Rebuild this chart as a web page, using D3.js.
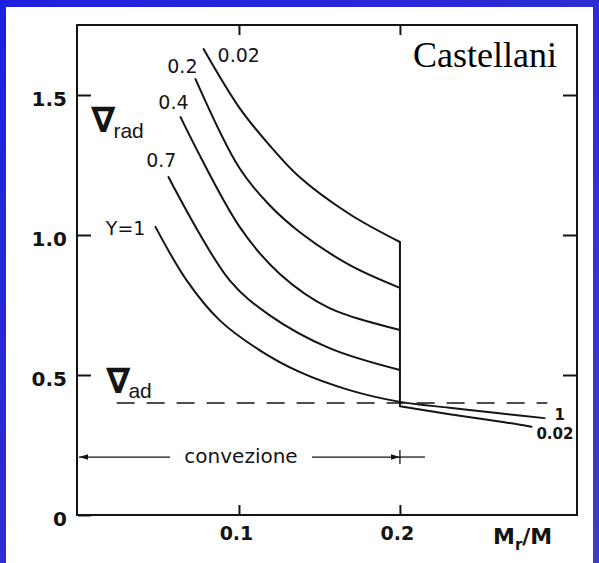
<!DOCTYPE html>
<html>
<head>
<meta charset="utf-8">
<script src="https://cdn.jsdelivr.net/npm/d3@7/dist/d3.min.js"></script>
<style>
  html, body { margin: 0; padding: 0; background: #ffffff; }
  svg { display: block; }
</style>
</head>
<body>
<svg id="chart" width="599" height="563"></svg>
<script>
// Radiative gradient vs. mass coordinate for different hydrogen abundances Y
const seriesNames = ["Y=1", "0.7", "0.4", "0.2", "0.02"];

// Mr/M values of each curve's points
const massY1   = [0.0481, 0.0674, 0.0879, 0.1127, 0.1376, 0.1686, 0.2, 0.2308, 0.2618, 0.2898];
const massY07  = [0.0562, 0.0941, 0.1189, 0.1562, 0.2];
const massY04  = [0.0637, 0.1003, 0.1252, 0.1562, 0.2];
const massY02  = [0.073, 0.1003, 0.1189, 0.1376, 0.1686, 0.2];
const massY002 = [0.078, 0.1003, 0.1189, 0.1376, 0.1686, 0.2, 0.2, 0.2308, 0.2618, 0.2817];

// radiative gradient values of each curve's points
const gradY1   = [1.029, 0.839, 0.696, 0.589, 0.511, 0.446, 0.404, 0.383, 0.363, 0.346];
const gradY07  = [1.207, 0.839, 0.714, 0.596, 0.518];
const gradY04  = [1.421, 1.030, 0.862, 0.739, 0.661];
const gradY02  = [1.557, 1.239, 1.107, 1.011, 0.893, 0.811];
const gradY002 = [1.664, 1.454, 1.321, 1.207, 1.075, 0.975, 0.388, 0.36, 0.334, 0.315];

// adiabatic gradient (dashed) and its extent
const gradAd = 0.4;
const adMassRange = [0.024, 0.2916];

// extent of the convective core
const convectionEdge = 0.2;

// axis ticks
const xTickValues = [0.1, 0.2];
const xTickLabels = ["0.1", "0.2"];
const yTickValues = [0, 0.5, 1.0, 1.5];
const yTickLabels = ["0", "0.5", "1.0", "1.5"];

const W = 599, H = 563;
const svg = d3.select("#chart");

// blue slide frame
const defs = svg.append("defs");
const grad = defs.append("linearGradient").attr("id", "frameBlue")
  .attr("x1", "0%").attr("y1", "0%").attr("x2", "100%").attr("y2", "100%");
grad.append("stop").attr("offset", "0%").attr("stop-color", "#1f1fe0");
grad.append("stop").attr("offset", "100%").attr("stop-color", "#3c3cc6");
svg.append("rect").attr("width", W).attr("height", H).attr("fill", "url(#frameBlue)");
svg.append("rect").attr("x", 6).attr("y", 7).attr("width", 587).attr("height", H - 7).attr("fill", "#ffffff");

const x = d3.scaleLinear().domain([0, 0.31]).range([78, 577]);
const y = d3.scaleLinear().domain([0, 1.75]).range([515, 25]);

const ink = "#141414";

// plot box
svg.append("rect")
  .attr("x", x(0) - 1).attr("y", y(1.75))
  .attr("width", x(0.31) - x(0) + 1).attr("height", y(0) - y(1.75))
  .attr("fill", "none").attr("stroke", ink).attr("stroke-width", 2);

// axes with inward ticks
const axisFont = "'DejaVu Sans', sans-serif";
const bottomAxis = svg.append("g").attr("transform", `translate(0,${y(0)})`)
  .call(d3.axisBottom(x).tickValues(xTickValues)
    .tickFormat((d, i) => xTickLabels[i]).tickSizeInner(-10).tickSizeOuter(0).tickPadding(12));
const topAxis = svg.append("g").attr("transform", `translate(0,${y(1.75)})`)
  .call(d3.axisTop(x).tickValues(xTickValues).tickFormat("").tickSizeInner(-10).tickSizeOuter(0));
const leftAxis = svg.append("g").attr("transform", `translate(${x(0)},0)`)
  .call(d3.axisLeft(y).tickValues(yTickValues)
    .tickFormat((d, i) => yTickLabels[i]).tickSizeInner(-13).tickSizeOuter(0).tickPadding(11));
const rightAxis = svg.append("g").attr("transform", `translate(${x(0.31)},0)`)
  .call(d3.axisRight(y).tickValues(yTickValues.filter(v => v > 0)).tickFormat("").tickSizeInner(-14).tickSizeOuter(0));

[bottomAxis, topAxis, leftAxis, rightAxis].forEach(g => {
  g.select(".domain").remove();
  g.selectAll(".tick line").attr("stroke", ink).attr("stroke-width", 2);
  g.selectAll(".tick text")
    .attr("fill", ink)
    .style("font-family", axisFont)
    .style("font-weight", "bold")
    .style("font-size", "19px");
});
leftAxis.selectAll(".tick text").attr("dy", "0.5em").style("font-size", "20px");
bottomAxis.selectAll(".tick text").attr("dx", "-3px");

// axis title Mr/M
const xt = svg.append("text")
  .attr("x", 493).attr("y", 544)
  .attr("fill", ink)
  .style("font-family", axisFont).style("font-weight", "bold").style("font-size", "22px");
xt.append("tspan").text("M");
xt.append("tspan").attr("dy", 6).style("font-size", "15px").text("r");
xt.append("tspan").attr("dy", -6).text("/M");

const seriesData = [
  d3.zip(massY1, gradY1),
  d3.zip(massY07, gradY07),
  d3.zip(massY04, gradY04),
  d3.zip(massY02, gradY02),
  d3.zip(massY002, gradY002)
];

// piecewise smoothing so the jump at the core edge stays a straight vertical
function pathFor(pts) {
  const segs = [];
  let cur = [pts[0]];
  for (let i = 1; i < pts.length; i++) {
    if (pts[i][0] === pts[i - 1][0]) {
      segs.push(cur);
      segs.push([pts[i - 1], pts[i]]);
      cur = [pts[i]];
    } else {
      cur.push(pts[i]);
    }
  }
  segs.push(cur);
  const l = d3.line().x(d => x(d[0])).y(d => y(d[1])).curve(d3.curveCatmullRom.alpha(0.5));
  return segs.filter(s => s.length > 1).map(s => l(s)).join("");
}

svg.append("g").selectAll("path")
  .data(seriesData)
  .join("path")
  .attr("d", d => pathFor(d))
  .attr("fill", "none")
  .attr("stroke", ink)
  .attr("stroke-width", 2)
  .attr("stroke-linecap", "round");

// dashed adiabatic gradient
svg.append("line")
  .attr("x1", x(adMassRange[0])).attr("x2", x(adMassRange[1]))
  .attr("y1", y(gradAd)).attr("y2", y(gradAd))
  .attr("stroke", ink).attr("stroke-width", 1.6)
  .attr("stroke-dasharray", "18,12");

// curve labels near the start of each curve
const labelFont = "'DejaVu Sans', sans-serif";
const startLabelOffsets = [
  { dx: -10, dy: 8, anchor: "end" },
  { dx: 8, dy: -10, anchor: "end" },
  { dx: 8, dy: -8, anchor: "end" },
  { dx: 2, dy: -6, anchor: "end" },
  { dx: 14, dy: 13, anchor: "start" }
];
svg.append("g").selectAll("text")
  .data(seriesData)
  .join("text")
  .attr("x", (d, i) => x(d[0][0]) + startLabelOffsets[i].dx)
  .attr("y", (d, i) => y(d[0][1]) + startLabelOffsets[i].dy)
  .attr("text-anchor", (d, i) => startLabelOffsets[i].anchor)
  .attr("fill", ink)
  .style("font-family", labelFont)
  .style("font-size", "19px")
  .text((d, i) => seriesNames[i]);

// labels at the outer end of the two curves that continue past the core
const endY1 = seriesData[0][seriesData[0].length - 1];
const endY002 = seriesData[4][seriesData[4].length - 1];
svg.append("text")
  .attr("x", x(endY1[0]) + 10).attr("y", y(endY1[1]) + 2)
  .attr("fill", ink).style("font-family", labelFont).style("font-weight", "bold").style("font-size", "15px")
  .text("1");
svg.append("text")
  .attr("x", x(endY002[0]) + 5).attr("y", y(endY002[1]) + 12)
  .attr("fill", ink).style("font-family", labelFont).style("font-weight", "bold").style("font-size", "15px")
  .text("0.02");

// gradient symbols
function nabla(px, py, sub, subDx, subDy) {
  const t = svg.append("text").attr("x", px).attr("y", py).attr("fill", ink);
  t.append("tspan").style("font-family", "'DejaVu Sans', sans-serif").style("font-weight", "bold")
    .style("font-size", "35px").text("∇");
  t.append("tspan").attr("dx", subDx).attr("dy", subDy)
    .style("font-family", "'Liberation Sans', Arial, sans-serif").style("font-size", "21px").text(sub);
}
nabla(91, 132, "rad", -2, 6);
nabla(106, 393, "ad", -2, 5);

// convective core span
defs.append("marker").attr("id", "arrowHead")
  .attr("viewBox", "0 0 10 10").attr("refX", 10).attr("refY", 5)
  .attr("markerWidth", 7).attr("markerHeight", 7).attr("orient", "auto-start-reverse")
  .append("path").attr("d", "M0,2 L10,5 L0,8 Z").attr("fill", ink);

const convY = y(0.207);
svg.append("line")
  .attr("x1", x(0) + 1).attr("x2", 170).attr("y1", convY).attr("y2", convY)
  .attr("stroke", ink).attr("stroke-width", 1.3)
  .attr("marker-start", "url(#arrowHead)");
svg.append("line")
  .attr("x1", 312).attr("x2", x(convectionEdge)).attr("y1", convY).attr("y2", convY)
  .attr("stroke", ink).attr("stroke-width", 1.3)
  .attr("marker-end", "url(#arrowHead)");
svg.append("line")
  .attr("x1", x(convectionEdge)).attr("x2", x(convectionEdge) + 25).attr("y1", convY).attr("y2", convY)
  .attr("stroke", ink).attr("stroke-width", 1.3);
svg.append("line")
  .attr("x1", x(convectionEdge)).attr("x2", x(convectionEdge))
  .attr("y1", convY - 7).attr("y2", convY + 7)
  .attr("stroke", ink).attr("stroke-width", 1.3);
svg.append("text")
  .attr("x", (170 + 312) / 2).attr("y", convY + 6)
  .attr("text-anchor", "middle").attr("fill", ink)
  .style("font-family", "'DejaVu Sans', sans-serif").style("font-size", "20px")
  .text("convezione");

// author credit
svg.append("text")
  .attr("x", 413).attr("y", 67)
  .attr("fill", "#000")
  .style("font-family", "'Liberation Serif', 'Times New Roman', serif").style("font-size", "36px")
  .text("Castellani");
</script>
</body>
</html>
